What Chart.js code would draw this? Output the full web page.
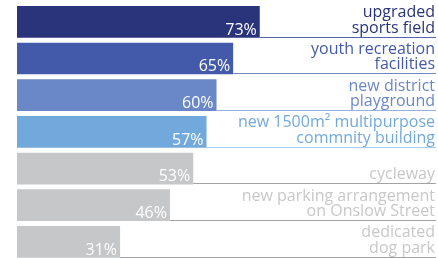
<!DOCTYPE html>
<html>
<head>
<meta charset="utf-8">
<script src="https://cdn.jsdelivr.net/npm/chart.js@4/dist/chart.umd.min.js"></script>
<style>
  html, body { margin: 0; padding: 0; background: #fff; overflow: hidden; }
  #wrap { position: relative; width: 438px; height: 262px; }
</style>
</head>
<body>
<div id="wrap"><canvas id="bar-chart"></canvas></div>
<script>
// data
const categories = [
  ["upgraded", "sports field"],
  ["youth recreation", "facilities"],
  ["new district", "playground"],
  ["new 1500m² multipurpose", "commnity building"],
  ["cycleway"],
  ["new parking arrangement", "on Onslow Street"],
  ["dedicated", "dog park"]
];
const values = [73, 65, 60, 57, 53, 46, 31];

// styles
const barColors = ["#29347a", "#4359a9", "#6a88c7", "#72a9dd", "#c6c7c9", "#c6c7c9", "#c6c7c9"];
const textColors = ["#29347a", "#4359a9", "#6a88c7", "#72a9dd", "#c8c8c9", "#c8c8c9", "#c8c8c9"];
const lineColors = ["#5565ad", "#7186c4", "#9ab0dc", "#a9cbec", "#a3a3a5", "#a3a3a5", "#a3a3a5"];
const FONT = "'Open Sans', 'Lato', sans-serif";

const labelPlugin = {
  id: "rowLabels",
  afterDatasetsDraw(chart) {
    const ctx = chart.ctx;
    const area = chart.chartArea;
    const meta = chart.getDatasetMeta(0);
    ctx.save();
    meta.data.forEach((bar, i) => {
      const props = bar.getProps(["x", "y", "height"], true);
      const bottom = props.y + props.height / 2;

      // underline from bar end to right edge
      ctx.strokeStyle = lineColors[i];
      ctx.lineWidth = 1;
      ctx.beginPath();
      ctx.moveTo(props.x, Math.round(bottom) - 0.5);
      ctx.lineTo(area.right, Math.round(bottom) - 0.5);
      ctx.stroke();

      // value inside bar end
      ctx.fillStyle = "#ffffff";
      ctx.font = "16px " + FONT;
      ctx.textAlign = "right";
      ctx.textBaseline = "alphabetic";
      ctx.fillText(values[i] + "%", props.x - 3, bottom - 3);

      // category label, right aligned
      ctx.fillStyle = textColors[i];
      ctx.font = "500 16px " + FONT;
      const lines = categories[i];
      const n = lines.length;
      lines.forEach((txt, k) => {
        const offset = (n - 1 - k) * 15.5 + 5;
        ctx.fillText(txt, area.right - 1, bottom - offset);
      });
    });
    ctx.restore();
  }
};

const config = {
  type: "bar",
  data: {
    labels: categories,
    datasets: [{
      data: values,
      backgroundColor: barColors,
      borderWidth: 0,
      barPercentage: 0.865,
      categoryPercentage: 1
    }]
  },
  options: {
    indexAxis: "y",
    responsive: true,
    maintainAspectRatio: false,
    animation: false,
    layout: { padding: { left: 17, right: 2, top: 3.5, bottom: 1.8 } },
    plugins: {
      legend: { display: false },
      tooltip: { enabled: false },
      title: { display: false }
    },
    scales: {
      x: { display: false, min: 0, max: 126 },
      y: { display: false }
    }
  },
  plugins: [labelPlugin]
};

const ctx = document.getElementById("bar-chart").getContext("2d");
window.myBar = new Chart(ctx, config);
</script>
</body>
</html>
